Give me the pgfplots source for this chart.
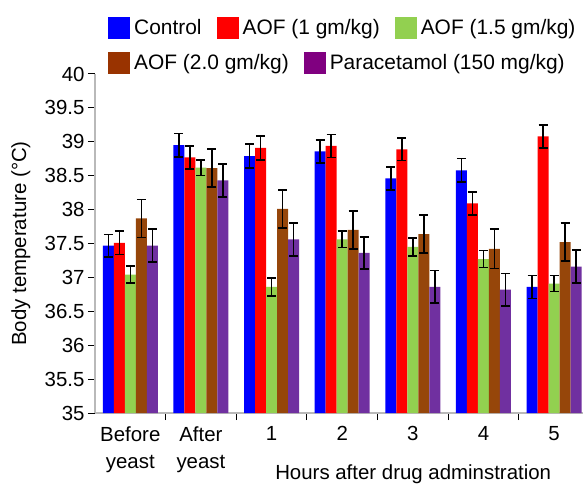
\documentclass[border=0pt]{standalone}
\usepackage{fontspec}
\setmainfont{Liberation Sans}
\usepackage{pgfplots}
\pgfplotsset{compat=1.18}
\definecolor{cblue}{RGB}{0,0,255}
\definecolor{cred}{RGB}{255,0,0}
\definecolor{cgreen}{RGB}{146,208,80}
\definecolor{cbrown}{RGB}{150,70,10}
\definecolor{cpurple}{RGB}{112,48,160}
\definecolor{lbrown}{RGB}{153,51,0}
\definecolor{lpurple}{RGB}{128,0,128}
\begin{document}
\begin{tikzpicture}
\pgfplotsset{
  myerr/.style={error bars/.cd, y dir=both, y explicit,
    error bar style={line width=1.6bp, black},
    error mark options={rotate=90, mark size=4.5bp, line width=1.6bp, black}},
}
\begin{axis}[
  name=main,
  scale only axis, width=488bp, height=339bp,
  font=\fontsize{20.5}{27}\selectfont,
  /pgf/number format/assume math mode=true,
  xmin=-0.5, xmax=6.41, ymin=35, ymax=40,
  axis x line=bottom, axis y line=left,
  axis line style={gray!55, line width=1.2bp, -},
  ytick={35,35.5,...,40},
  yticklabels={35,35.5,36,36.5,37,37.5,38,38.5,39,39.5,40},
  tick align=outside, major tick length=7bp,
  tick style={black, line width=1bp},
  xtick={0.5,1.5,...,5.5}, xticklabels={},
  extra x ticks={0,1,2,3,4,5,6},
  extra x tick labels={{Before\\yeast},{After\\yeast},1,2,3,4,5},
  extra x tick style={major tick length=0pt},
  x tick label style={align=center, yshift=-10bp},
  ylabel={Body temperature (°C)},
  ylabel style={at={(axis description cs:-0.152,0.5)}, anchor=center},
  xlabel={Hours after drug adminstration},
  xlabel style={at={(axis description cs:0.652,-0.195)}, anchor=base},
  ybar=0pt, bar width=11bp,
  legend columns=3,
  legend style={draw=none, fill=none, at={(axis description cs:0.027,1.168)}, anchor=north west,
    font=\fontsize{21}{25}\selectfont,
    inner sep=0pt, outer sep=0pt, nodes={inner sep=2bp},
    /tikz/every even column/.append style={column sep=13bp}},
]
\addlegendimage{legend image code/.code={\fill[cblue, draw=none] (0bp,-11bp) rectangle (22bp,11bp); \path[draw=none, fill=none] (0bp,0bp) rectangle (24bp,0bp);}}
\addlegendentry{Control}
\addlegendimage{legend image code/.code={\fill[cred, draw=none] (0bp,-11bp) rectangle (22bp,11bp); \path[draw=none, fill=none] (0bp,0bp) rectangle (24bp,0bp);}}
\addlegendentry{AOF (1 gm/kg)}
\addlegendimage{legend image code/.code={\fill[cgreen, draw=none] (0bp,-11bp) rectangle (22bp,11bp); \path[draw=none, fill=none] (0bp,0bp) rectangle (24bp,0bp);}}
\addlegendentry{AOF (1.5 gm/kg)}

\addplot[fill=cblue, draw=none, bar shift=-22bp, forget plot, myerr] coordinates {
 (0,37.47) +- (0,0.165) (1,38.95) +- (0,0.17) (2,38.79) +- (0,0.175) (3,38.86) +- (0,0.17)
 (4,38.46) +- (0,0.17) (5,38.58) +- (0,0.175) (6,36.86) +- (0,0.17)};
\addplot[fill=cred, draw=none, bar shift=-11bp, forget plot, myerr] coordinates {
 (0,37.51) +- (0,0.17) (1,38.77) +- (0,0.17) (2,38.91) +- (0,0.175) (3,38.94) +- (0,0.17)
 (4,38.89) +- (0,0.165) (5,38.09) +- (0,0.17) (6,39.08) +- (0,0.17)};
\addplot[fill=cgreen, draw=none, bar shift=0bp, forget plot, myerr] coordinates {
 (0,37.04) +- (0,0.125) (1,38.62) +- (0,0.115) (2,36.86) +- (0,0.13) (3,37.56) +- (0,0.12)
 (4,37.45) +- (0,0.13) (5,37.27) +- (0,0.125) (6,36.91) +- (0,0.12)};
\addplot[fill=cbrown, draw=none, bar shift=11bp, forget plot, myerr] coordinates {
 (0,37.87) +- (0,0.28) (1,38.61) +- (0,0.28) (2,38.01) +- (0,0.28) (3,37.70) +- (0,0.28)
 (4,37.64) +- (0,0.28) (5,37.42) +- (0,0.29) (6,37.52) +- (0,0.28)};
\addplot[fill=cpurple, draw=none, bar shift=22bp, forget plot, myerr] coordinates {
 (0,37.47) +- (0,0.24) (1,38.43) +- (0,0.24) (2,37.56) +- (0,0.24) (3,37.36) +- (0,0.24)
 (4,36.86) +- (0,0.24) (5,36.82) +- (0,0.24) (6,37.16) +- (0,0.24)};
\coordinate (bl) at (rel axis cs:0,0);
\coordinate (tr) at (rel axis cs:1,1);
\end{axis}
\begin{axis}[
  scale only axis, width=488bp, height=339bp,
  hide axis, xmin=0, xmax=1, ymin=0, ymax=1,
  legend columns=2,
  legend style={draw=none, fill=none, at={(axis description cs:0.027,1.066)}, anchor=north west,
    font=\fontsize{21}{25}\selectfont,
    inner sep=0pt, outer sep=0pt, nodes={inner sep=2bp},
    /tikz/every even column/.append style={column sep=13bp}},
]
\addlegendimage{legend image code/.code={\fill[lbrown, draw=none] (0bp,-11bp) rectangle (22bp,11bp); \path[draw=none, fill=none] (0bp,0bp) rectangle (24bp,0bp);}}
\addlegendentry{AOF (2.0 gm/kg)}
\addlegendimage{legend image code/.code={\fill[lpurple, draw=none] (0bp,-11bp) rectangle (22bp,11bp); \path[draw=none, fill=none] (0bp,0bp) rectangle (24bp,0bp);}}
\addlegendentry{Paracetamol (150 mg/kg)}
\end{axis}
\pgfresetboundingbox
\path[use as bounding box] ([shift={(-95bp,-71bp)}]bl) rectangle ([shift={(0bp,74bp)}]tr);
\end{tikzpicture}
\end{document}
